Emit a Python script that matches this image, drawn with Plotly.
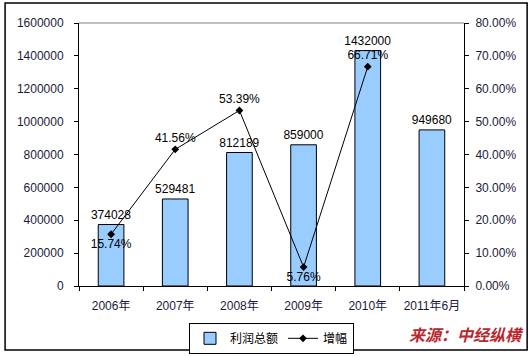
import plotly.graph_objects as go

categories = ["2006年", "2007年", "2008年", "2009年", "2010年", "2011年6月"]
profit = [374028, 529481, 812189, 859000, 1432000, 949680]
growth = [0.1574, 0.4156, 0.5339, 0.0576, 0.6671, None]
growth_labels = ["15.74%", "41.56%", "53.39%", "5.76%", "66.71%", ""]
growth_pos = ["bottom center", "top center", "top center", "bottom center", "top center", "top center"]

FONT = "Liberation Sans, Arial, Noto Sans CJK SC, sans-serif"
TXT = "#1a1a3a"

fig = go.Figure()
fig.add_trace(go.Bar(
    x=categories, y=profit, name="利润总额",
    marker=dict(color="#99CCFF", line=dict(color="black", width=1)),
    text=[str(v) for v in profit], textposition="outside",
    textfont=dict(size=12, color="black", family=FONT),
    constraintext="none",
    cliponaxis=False, width=0.4,
))
fig.add_trace(go.Scatter(
    x=categories, y=growth, name="增幅", yaxis="y2",
    mode="lines+markers+text",
    line=dict(color="black", width=1),
    marker=dict(symbol="diamond", size=6, color="black"),
    text=growth_labels, textposition=growth_pos,
    textfont=dict(size=12, color="black", family=FONT),
    cliponaxis=False,
))

fig.update_layout(
    width=532, height=356,
    margin=dict(l=79, r=68, t=23, b=70, autoexpand=False),
    paper_bgcolor="white", plot_bgcolor="white",
    font=dict(family=FONT, size=12, color=TXT),
    showlegend=True,
    legend=dict(orientation="h", x=0.5, xanchor="center", y=-0.14, yanchor="top",
                bordercolor="black", borderwidth=1, bgcolor="white",
                font=dict(size=12, color="black"), itemwidth=30,
                traceorder="normal"),
    xaxis=dict(showline=True, linecolor="black", linewidth=1,
               ticks="outside", ticklen=4, tickcolor="black",
               tickson="boundaries", showgrid=False, tickangle=0,
               automargin=False, ticklabelstandoff=9,
               tickfont=dict(size=12, color=TXT)),
    yaxis=dict(range=[0, 1600000], dtick=200000, showline=True, linecolor="black",
               ticks="outside", ticklen=4, tickcolor="black", showgrid=False,
               automargin=False, ticklabelstandoff=8,
               zeroline=False, tickformat="d", tickfont=dict(size=12, color=TXT)),
    yaxis2=dict(range=[0, 0.8], dtick=0.1, overlaying="y", side="right",
                showline=True, linecolor="black", ticks="outside", ticklen=4,
                tickcolor="black", showgrid=False, zeroline=False,
                automargin=False, ticklabelstandoff=4,
                tickformat=".2%", tickfont=dict(size=12, color=TXT)),
    shapes=[
        dict(type="line", xref="paper", yref="paper", x0=0, x1=1, y0=1, y1=1,
             line=dict(color="#808080", width=1)),
        dict(type="rect", xref="paper", yref="paper", x0=-0.192, x1=1.164,
             y0=-0.243, y1=1.076, line=dict(color="black", width=1.5)),
    ],
    annotations=[
        dict(text="<b><i>来源：中经纵横</i></b>", xref="paper", yref="paper",
             x=1.16, y=-0.235, xanchor="right", yanchor="bottom", showarrow=False,
             font=dict(size=16, color="#B8282E", family="Noto Sans CJK SC, sans-serif")),
    ],
)

fig.write_html("out.html", config={"displayModeBar": False},
               post_script="document.body.style.margin='0px';document.body.style.overflow='hidden';")
